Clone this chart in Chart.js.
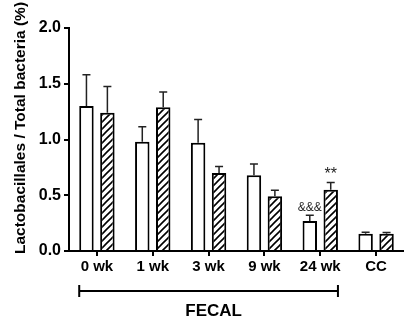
<!DOCTYPE html>
<html>
<head>
<meta charset="utf-8">
<script src="https://cdn.jsdelivr.net/npm/chart.js@4"></script>
<style>
  html, body { margin: 0; padding: 0; background: #fff; }
  #wrap { width: 404px; height: 320px; position: relative; }
</style>
</head>
<body>
<div id="wrap"><canvas id="chart"></canvas></div>
<script>
const categories = ['0 wk', '1 wk', '3 wk', '9 wk', '24 wk', 'CC'];
const openValues = [1.30, 0.98, 0.97, 0.68, 0.27, 0.155];
const openErrors = [0.28, 0.135, 0.21, 0.10, 0.05, 0.013];
const hatchValues = [1.24, 1.29, 0.70, 0.49, 0.55, 0.155];
const hatchErrors = [0.235, 0.135, 0.057, 0.055, 0.065, 0.01];
const openMarks = ['', '', '', '', '&&&', ''];
const hatchMarks = ['', '', '', '', '**', ''];
const yTicks = [0, 0.5, 1.0, 1.5, 2.0];
const yTitle = 'Lactobacillales / Total bacteria (%)';
const groupLabel = 'FECAL';
const groupRange = [0, 4]; // first and last category under the bracket

const FONT = '"Liberation Sans", Arial, sans-serif';

// diagonal hatch fill
function hatchPattern() {
  const c = document.createElement('canvas');
  const s = 7;
  c.width = s; c.height = s;
  const g = c.getContext('2d');
  g.fillStyle = '#fff';
  g.fillRect(0, 0, s, s);
  g.strokeStyle = '#000';
  g.lineWidth = 1.6;
  g.beginPath();
  g.moveTo(-1, s + 1); g.lineTo(s + 1, -1);
  g.moveTo(-1, 1); g.lineTo(1, -1);
  g.moveTo(s - 1, s + 1); g.lineTo(s + 1, s - 1);
  g.stroke();
  return g.createPattern(c, 'repeat');
}

const ctx = document.getElementById('chart').getContext('2d');

const extras = {
  id: 'extras',
  afterDatasetsDraw(chart) {
    const c = chart.ctx;
    const y = chart.scales.y;
    const errs = [openErrors, hatchErrors];
    const marks = [openMarks, hatchMarks];
    c.save();
    // error bars, upper half only
    c.strokeStyle = '#222';
    c.lineWidth = 1.5;
    [0, 1].forEach(d => {
      const meta = chart.getDatasetMeta(d);
      meta.data.forEach((bar, i) => {
        const v = chart.data.datasets[d].data[i];
        const yTop = y.getPixelForValue(v + errs[d][i]);
        c.beginPath();
        c.moveTo(bar.x, bar.y);
        c.lineTo(bar.x, yTop);
        c.moveTo(bar.x - 4, yTop);
        c.lineTo(bar.x + 4, yTop);
        c.stroke();
        const m = marks[d][i];
        if (m) {
          c.fillStyle = '#222';
          c.textAlign = 'center';
          c.textBaseline = 'bottom';
          c.font = (m === '**' ? '16px ' : '12px ') + FONT;
          c.fillText(m, bar.x, yTop - (m === '**' ? 0 : 2));
        }
      });
    });
    // y title
    c.fillStyle = '#000';
    c.font = 'bold 15.5px ' + FONT;
    c.textAlign = 'center';
    c.textBaseline = 'middle';
    c.translate(21, 128);
    c.rotate(-Math.PI / 2);
    c.fillText(yTitle, 0, 0);
    c.restore();

    // group bracket
    c.save();
    const first = chart.getDatasetMeta(0).data[groupRange[0]];
    const last = chart.getDatasetMeta(1).data[groupRange[1]];
    const x0 = first.x - first.width / 2;
    const x1 = last.x + last.width / 2;
    const by = 291;
    c.strokeStyle = '#000';
    c.lineWidth = 2;
    c.beginPath();
    c.moveTo(x0, by); c.lineTo(x1, by);
    c.moveTo(x0, by - 6); c.lineTo(x0, by + 6);
    c.moveTo(x1, by - 6); c.lineTo(x1, by + 6);
    c.stroke();
    c.fillStyle = '#000';
    c.font = 'bold 17px ' + FONT;
    c.textAlign = 'center';
    c.textBaseline = 'middle';
    c.fillText(groupLabel, (x0 + x1) / 2 + 5, 311);
    c.restore();
  }
};

new Chart(ctx, {
  type: 'bar',
  data: {
    labels: categories,
    datasets: [
      { data: openValues, backgroundColor: '#fff', borderColor: '#000', borderWidth: 2 },
      { data: hatchValues, backgroundColor: hatchPattern(), borderColor: '#000', borderWidth: 2 }
    ]
  },
  options: {
    responsive: true,
    maintainAspectRatio: false,
    animation: false,
    categoryPercentage: 0.75,
    barPercentage: 0.69,
    layout: { padding: { top: 28, left: 0, right: 0, bottom: 0 } },
    plugins: { legend: { display: false }, tooltip: { enabled: false } },
    scales: {
      x: {
        afterFit(s) { s.height = 69; },
        grid: { offset: false, drawOnChartArea: false, drawTicks: true, tickLength: 5, color: '#000', lineWidth: 2 },
        border: { display: true, color: '#000', width: 2 },
        ticks: { color: '#000', padding: 2, font: { family: FONT, size: 15, weight: 'bold' } }
      },
      y: {
        min: 0,
        max: 2,
        afterFit(s) { s.width = 69; },
        afterBuildTicks(s) { s.ticks = yTicks.map(v => ({ value: v })); },
        grid: { drawOnChartArea: false, drawTicks: true, tickLength: 5, color: '#000', lineWidth: 2 },
        border: { display: true, color: '#000', width: 2 },
        ticks: {
          color: '#000', padding: 3,
          font: { family: FONT, size: 16, weight: 'bold' },
          callback: v => Number(v).toFixed(1)
        }
      }
    }
  },
  plugins: [extras]
});
</script>
</body>
</html>
